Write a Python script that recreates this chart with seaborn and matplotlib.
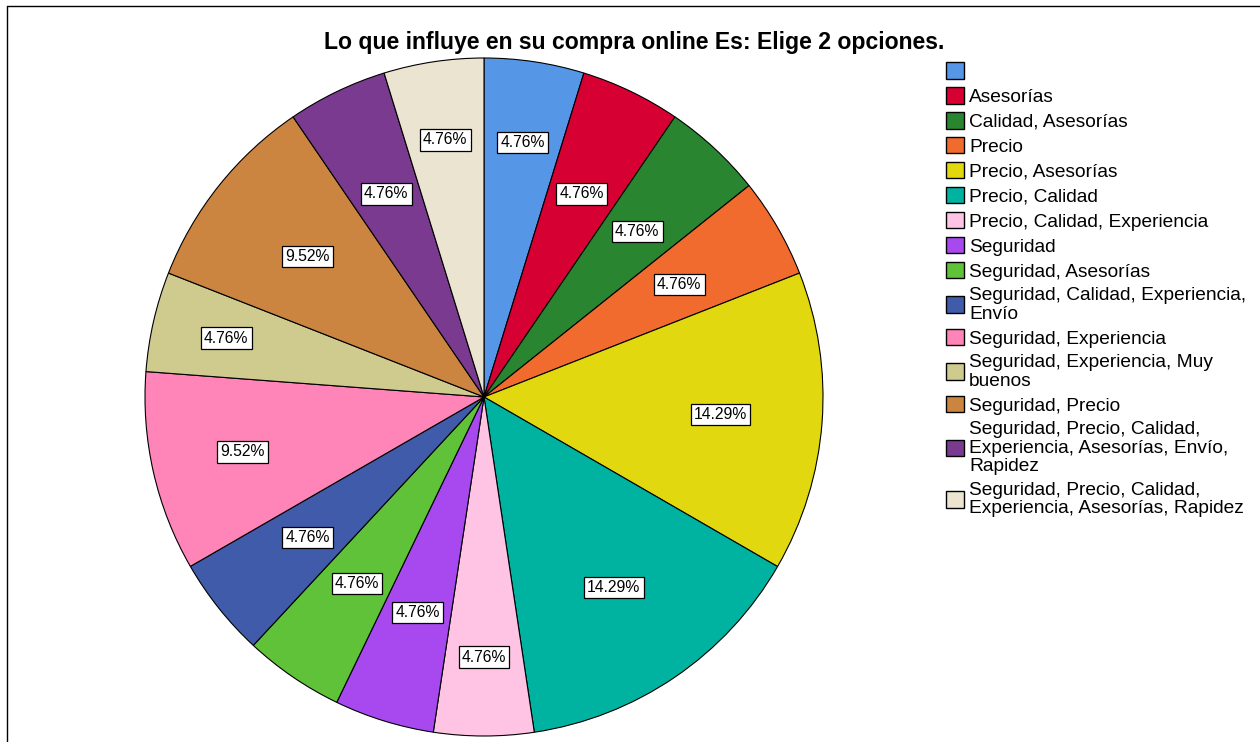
import matplotlib
matplotlib.use("Agg")
import numpy as np
import matplotlib.pyplot as plt
import seaborn as sns
from matplotlib.patches import Patch
from matplotlib.lines import Line2D

sns.set_theme(style="white")
plt.rcParams['font.family'] = ['Liberation Sans', 'DejaVu Sans']
plt.rcParams['text.color'] = 'black'

categories = [
    " ",
    "Asesorías",
    "Calidad, Asesorías",
    "Precio",
    "Precio, Asesorías",
    "Precio, Calidad",
    "Precio, Calidad, Experiencia",
    "Seguridad",
    "Seguridad, Asesorías",
    "Seguridad, Calidad, Experiencia,\nEnvío",
    "Seguridad, Experiencia",
    "Seguridad, Experiencia, Muy\nbuenos",
    "Seguridad, Precio",
    "Seguridad, Precio, Calidad,\nExperiencia, Asesorías, Envío,\nRapidez",
    "Seguridad, Precio, Calidad,\nExperiencia, Asesorías, Rapidez",
]
percentages = [4.76, 4.76, 4.76, 4.76, 14.29, 14.29, 4.76, 4.76, 4.76, 4.76,
               9.52, 4.76, 9.52, 4.76, 4.76]
colors = ["#5596E6", "#D60032", "#2A8530", "#F26B2E", "#E1D810", "#00B3A0",
          "#FFC4E3", "#A849F0", "#5FC238", "#3F5BA9", "#FF85B8", "#CFCA8E",
          "#CC8540", "#793A8F", "#EAE4D0"]
# radial placement of the percentage boxes (fraction of the radius), style only
label_radius = [0.76, 0.665, 0.665, 0.665, 0.70, 0.68, 0.767, 0.665, 0.665,
                0.665, 0.73, 0.78, 0.665, 0.665, 0.767]

W, H = 1260, 742
fig = plt.figure(figsize=(W / 100, H / 100), dpi=100)
fig.patch.set_facecolor("white")

cx, cy, r = 484, 397, 339
ax = fig.add_axes([(cx - r) / W, (H - cy - r) / H, 2 * r / W, 2 * r / H])
wedges, texts, autotexts = ax.pie(
    percentages, colors=colors, startangle=90, counterclock=False,
    autopct=lambda p: f"{p:.2f}%", pctdistance=0.665,
    wedgeprops=dict(edgecolor="black", linewidth=0.8),
    textprops=dict(fontsize=11.3, color="black"))
for w in wedges:
    w.set_clip_on(False)
for w, t, d in zip(wedges, autotexts, label_radius):
    ang = np.deg2rad((w.theta1 + w.theta2) / 2)
    t.set_position((d * np.cos(ang), d * np.sin(ang)))
    t.set_bbox(dict(boxstyle="square,pad=0.2", facecolor="white",
                    edgecolor="black", linewidth=0.9))
ax.set_xlim(-1, 1)
ax.set_ylim(-1, 1)
ax.set_aspect("equal")
ax.axis("off")

fig.text(634 / W, 1 - 42 / H, "Lo que influye en su compra online Es: Elige 2 opciones.",
         ha="center", va="center", fontsize=16.6, fontweight="bold", color="black")

handles = [Patch(facecolor=c, edgecolor="black", linewidth=1.0) for c in colors]
leg = fig.legend(handles, categories, loc="upper left",
                 bbox_to_anchor=(946 / W, 1 - 62 / H), frameon=False,
                 fontsize=13.8, handlelength=0.95, handleheight=0.95,
                 handletextpad=0.25, labelspacing=0.32, borderaxespad=0,
                 borderpad=0)
for t in leg.get_texts():
    t.set_linespacing(1.14)
    t.set_color("black")

fig.add_artist(Line2D([7 / W, 7 / W], [0, 1 - 6 / H], color="black", linewidth=1,
                      transform=fig.transFigure))
fig.add_artist(Line2D([7 / W, 1], [1 - 6 / H, 1 - 6 / H], color="black", linewidth=1,
                      transform=fig.transFigure))

fig.savefig("out.png", dpi=100)
